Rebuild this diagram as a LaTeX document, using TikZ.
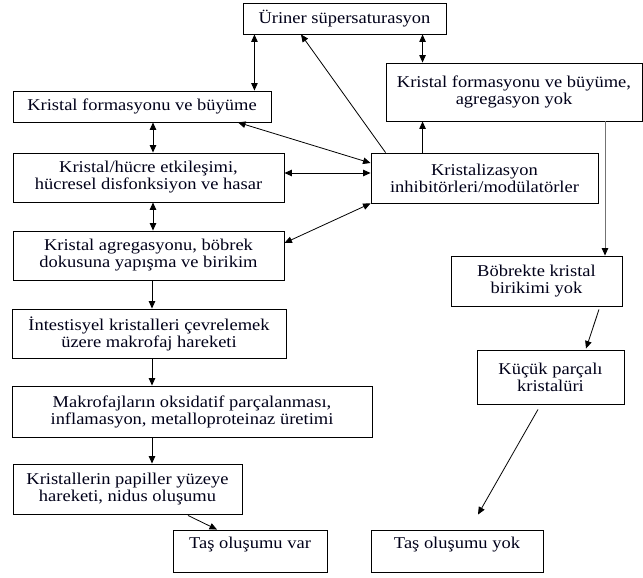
\documentclass[tikz,border=0pt]{standalone}
\usepackage{fontspec}
\setmainfont[FakeStretch=1.12]{Liberation Serif}
\usetikzlibrary{arrows.meta}
\begin{document}
\begin{tikzpicture}[x=1pt,y=-1pt,
  box/.style={draw=black,line width=0.9pt,inner sep=0pt,align=center,
    font=\fontsize{16.5}{17}\selectfont,text=black!90!blue},
  arr/.style={line width=0.8pt,-{Triangle[length=7.5pt,width=6.5pt]}},
  dbl/.style={line width=0.8pt,{Triangle[length=7.5pt,width=6.5pt]}-{Triangle[length=7.5pt,width=6.5pt]}},
  grayarr/.style={line width=0.8pt,draw=black!55,-{Triangle[length=7.5pt,width=6.5pt,color=black]}}]
\useasboundingbox (0,0) rectangle (643,578);
\fill[white] (0,0) rectangle (643,578);

\node[box,minimum width=203pt,minimum height=31pt] (ur) at (344.5,18.5) {Üriner süpersaturasyon};
\node[box,minimum width=256pt,minimum height=58pt] (rb) at (514,92) {Kristal formasyonu ve büyüme,\\agregasyon yok};
\node[box,minimum width=258pt,minimum height=31pt] (lf) at (142,106.5) {Kristal formasyonu ve büyüme};
\node[box,minimum width=271pt,minimum height=49pt] (kh) at (148.5,177.5) {Kristal/hücre etkileşimi,\\hücresel disfonksiyon ve hasar};
\node[box,minimum width=227pt,minimum height=50pt] (ki) at (484.5,178) {Kristalizasyon\\inhibitörleri/modülatörler};
\node[box,minimum width=271pt,minimum height=49pt] (ag) at (148.5,255.5) {Kristal agregasyonu, böbrek\\dokusuna yapışma ve birikim};
\node[box,minimum width=171pt,minimum height=50pt] (bb) at (536.5,281) {Böbrekte kristal\\birikimi yok};
\node[box,minimum width=274pt,minimum height=49pt] (in) at (149,333.5) {İntestisyel kristalleri çevrelemek\\üzere makrofaj hareketi};
\node[box,minimum width=147pt,minimum height=54pt] (kp) at (550.5,377) {Küçük parçalı\\kristalüri};
\node[box,minimum width=360pt,minimum height=51pt] (mk) at (192,411.5) {Makrofajların oksidatif parçalanması,\\inflamasyon, metalloproteinaz üretimi};
\node[box,minimum width=229pt,minimum height=50pt] (kr) at (127.5,489) {Kristallerin papiller yüzeye\\hareketi, nidus oluşumu};
\node[box,minimum width=154pt,minimum height=42pt] (tv) at (250,551) {Taş oluşumu var\\\mbox{}};
\node[box,minimum width=172pt,minimum height=42pt] (ty) at (457,551) {Taş oluşumu yok\\\mbox{}};

% vertical connectors
\coordinate (c1) at ([xshift=-17pt]lf.north east);
\draw[dbl] (c1 |- ur.south) -- (c1);
\coordinate (c2) at ([xshift=37pt]rb.north west);
\draw[dbl] (c2 |- ur.south) -- (c2);
\coordinate (c3) at ([xshift=52pt]ki.north west);
\draw[arr] (c3) -- (c3 |- rb.south);
\coordinate (c4) at ([xshift=11pt]lf.south);
\draw[dbl] (c4) -- (c4 |- kh.north);
\coordinate (c5) at ([xshift=4.5pt]kh.south);
\draw[dbl] (c5) -- (c5 |- ag.north);
\coordinate (c6) at ([xshift=3.5pt]ag.south);
\draw[arr] (c6) -- (c6 |- in.north);
\coordinate (c7) at ([xshift=3pt]in.south);
\draw[arr] (c7) -- (c7 |- mk.north);
\coordinate (c8) at ([xshift=-40pt]mk.south);
\draw[arr] (c8) -- (c8 |- kr.north);
\coordinate (c9) at ([xshift=68.5pt]bb.north);
\draw[grayarr] (c9 |- rb.south) -- (c9);

% diagonal / horizontal connectors
\draw[arr] ([xshift=15pt]ki.north west) -- ([xshift=-43.5pt]ur.south);
\draw[dbl] ([xshift=96pt]lf.south) -- ([yshift=15pt]ki.west);
\coordinate (c10) at ([yshift=4.5pt]kh.east);
\draw[dbl] (c10) -- (c10 -| ki.west);
\draw[dbl] ([yshift=12.5pt]ag.east) -- (ki.south west);
\draw[arr] ([xshift=60.5pt,yshift=-1pt]kr.south) -- ([xshift=-33pt]tv.north);
\draw[arr] ([xshift=62.5pt,yshift=-3pt]bb.south) -- ([xshift=35.5pt,yshift=1pt]kp.north);
\draw[arr] ([xshift=-12.5pt,yshift=-5pt]kp.south) -- ([xshift=21pt,yshift=15pt]ty.north);
\end{tikzpicture}
\end{document}
